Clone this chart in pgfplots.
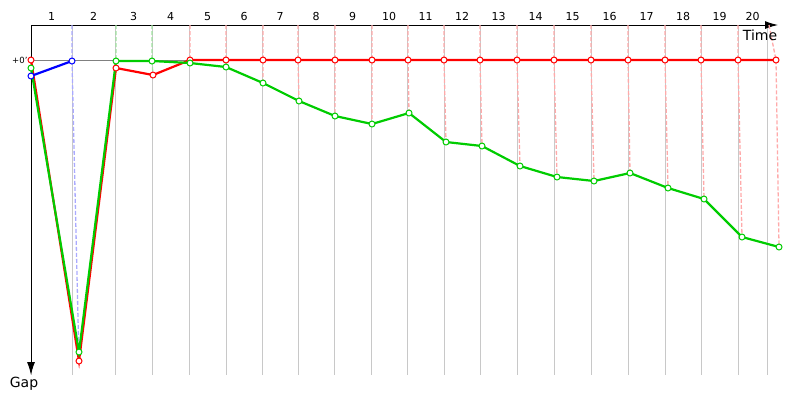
\documentclass[border=0pt]{standalone}
\usepackage{fontspec}
\setmainfont{DejaVu Sans}
\usepackage{pgfplots}
\pgfplotsset{compat=1.18}
\usetikzlibrary{arrows.meta}
\definecolor{cred}{RGB}{255,0,0}
\definecolor{cgreen}{RGB}{0,204,0}
\definecolor{cblue}{RGB}{0,0,255}
\definecolor{dred}{RGB}{255,170,170}
\definecolor{dgreen}{RGB}{160,226,160}
\definecolor{dblue}{RGB}{170,170,255}
\definecolor{gridgray}{RGB}{200,200,200}
\begin{document}
\begin{tikzpicture}
\path[use as bounding box] (0,0) rectangle (800pt,-400pt);
\begin{axis}[
  at={(31pt,-25pt)}, anchor=north west,
  scale only axis, width=747pt, height=350pt,
  xmin=0, xmax=747, ymin=-35, ymax=315, y dir=reverse,
  axis x line=top, axis y line=left,
  axis line style={line width=1pt, -{Latex[length=13pt,width=8pt]}},
  xtick={20.5,62.5,102.5,139.5,176.5,213,249,285,321.5,358,394.5,431,467.5,504.5,541.5,578.5,615.5,652,688.5,721.5},
  xticklabels={1,2,3,4,5,6,7,8,9,10,11,12,13,14,15,16,17,18,19,20},
  minor xtick={0,41,84,121,158,195,231,267,303,340,376,413,449,486,523,560,597,634,670,707,736},
  xminorgrids, minor grid style={gridgray, line width=1pt},
  ytick={0}, yticklabels={+0'},
  ymajorgrids, major grid style={gray, line width=0.8pt},
  major tick length=0, minor tick length=0,
  xticklabel style={font=\fontsize{11}{13}\selectfont, yshift=0.5pt},
  yticklabel style={font=\fontsize{8.5}{10}\selectfont},
  clip=false,
  unbounded coords=jump,
  /pgf/number format/assume math mode=true,
]
% lap connector lines
\addplot[dblue, line width=1.3pt, dash pattern=on 4pt off 2pt, no markers] coordinates {(41,-35) (41,1) (48,301)};
\addplot[dgreen, line width=1.3pt, dash pattern=on 4pt off 2pt, no markers] coordinates {(85,-35) (85,1) (85,8) (nan,nan) (121,-35) (121,1) (122,15)};
\addplot[dred, line width=1.3pt, dash pattern=on 4pt off 2pt, no markers] coordinates {
 (159,-35) (159,0) (159,3) (nan,nan)
 (195,-35) (195,0) (195,7) (nan,nan)
 (232,-35) (232,0) (232,23) (nan,nan)
 (267,-35) (267,0) (268,41) (nan,nan)
 (304,-35) (304,0) (304,56) (nan,nan)
 (341,-35) (341,0) (341,64) (nan,nan)
 (377,-35) (377,0) (378,53) (nan,nan)
 (413,-35) (413,0) (415,82) (nan,nan)
 (449,-35) (449,0) (451,86) (nan,nan)
 (486,-35) (486,0) (489,106) (nan,nan)
 (523,-35) (523,0) (526,117) (nan,nan)
 (560,-35) (560,0) (563,121) (nan,nan)
 (597,-35) (597,0) (599,113) (nan,nan)
 (634,-35) (634,0) (637,128) (nan,nan)
 (670,-35) (670,0) (673,139) (nan,nan)
 (707,-35) (707,0) (711,177) (nan,nan)
 (738,-35) (745,0) (748,187)};
% drivers
\addplot[cred, line width=2.2pt, mark=*, mark size=3pt, mark options={fill=white, line width=1pt}] coordinates {
 (0,0) (48,301) (85,8) (122,15) (159,0) (195,0) (232,0) (267,0) (304,0) (341,0) (377,0)
 (413,0) (449,0) (486,0) (523,0) (560,0) (597,0) (634,0) (670,0) (707,0) (745,0)};
\addplot[cgreen, line width=2.2pt, mark=*, mark size=3pt, mark options={fill=white, line width=1pt}] coordinates {
 (0,8) (48,292) (85,1) (121,1) (159,3) (195,7) (232,23) (268,41) (304,56) (341,64) (378,53)
 (415,82) (451,86) (489,106) (526,117) (563,121) (599,113) (637,128) (673,139) (711,177) (748,187)};
\addplot[cblue, line width=2.2pt, mark=*, mark size=3pt, mark options={fill=white, line width=1pt}] coordinates {
 (0,16) (41,1)};
\node[font=\fontsize{14}{16}\selectfont] at (axis cs:729,-25) {Time};
\node[font=\fontsize{14}{16}\selectfont] at (axis cs:-7,324) {Gap};
\end{axis}
\end{tikzpicture}
\end{document}
